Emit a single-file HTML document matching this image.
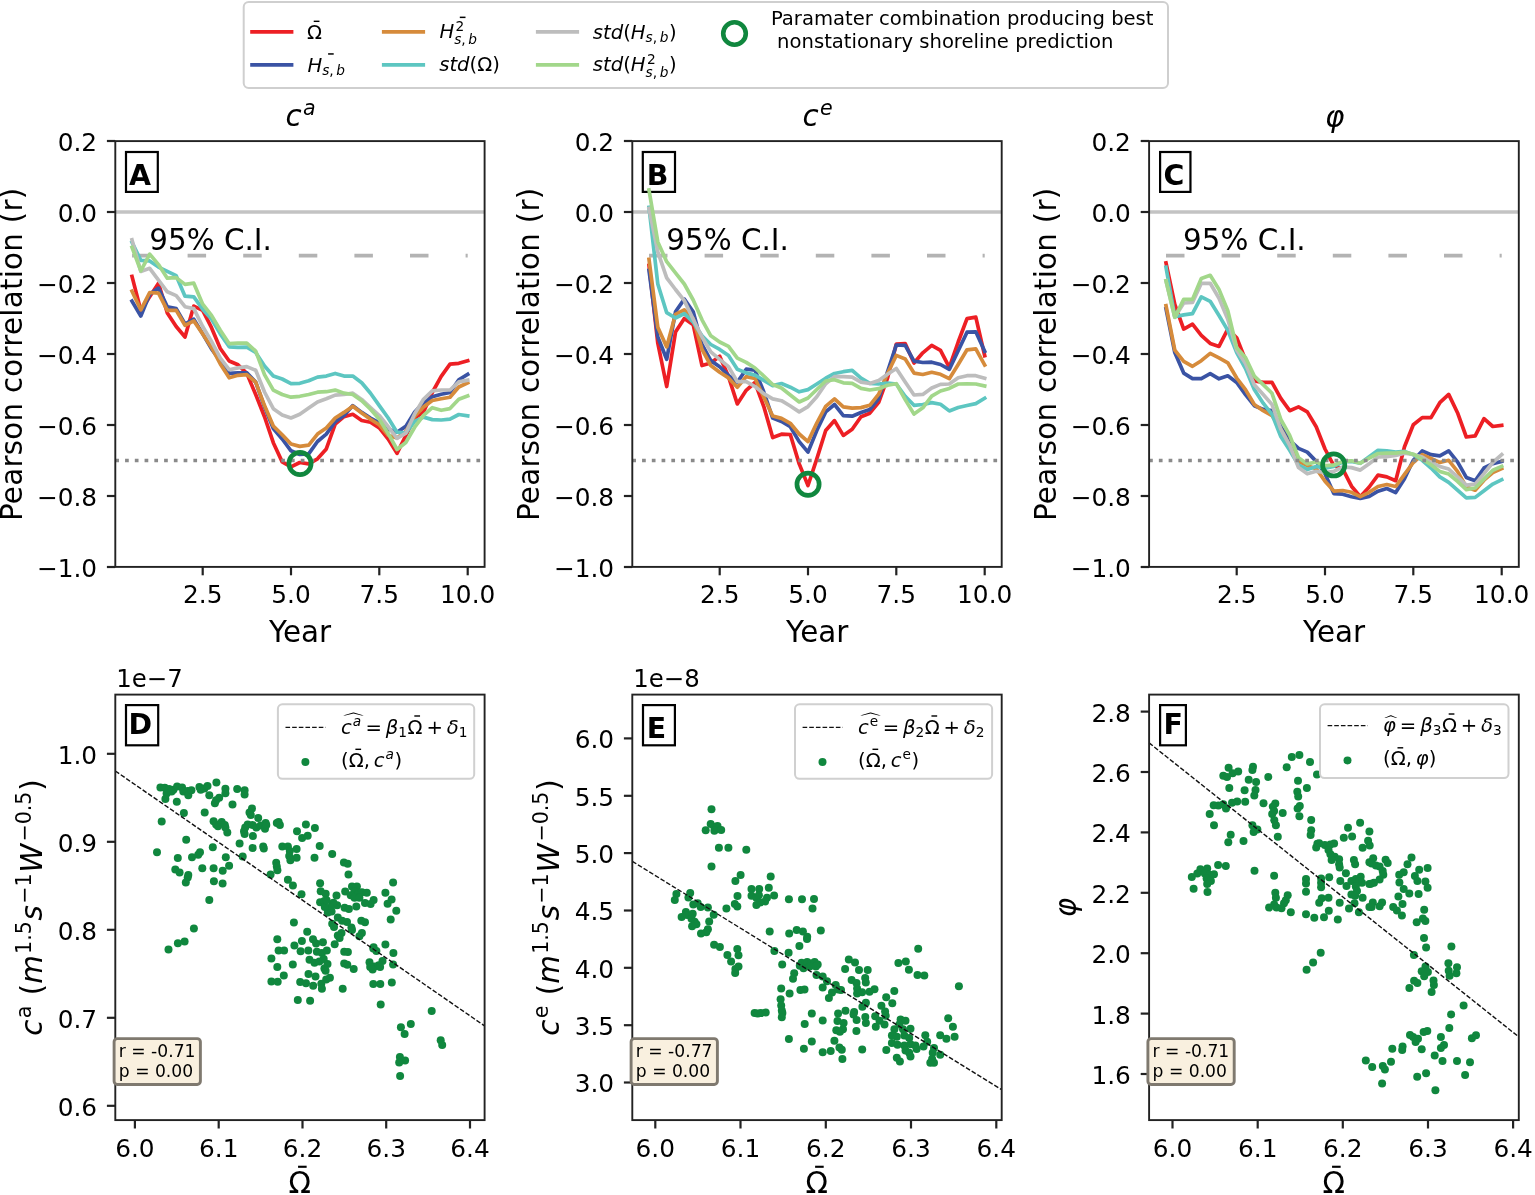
<!DOCTYPE html>
<html><head><meta charset="utf-8"><title>figure</title>
<style>html,body{margin:0;padding:0;background:#fff}svg{display:block}</style></head>
<body>
<svg width="1535" height="1195" viewBox="0 0 1535 1195" font-family="'DejaVu Sans', 'Liberation Sans', sans-serif" fill="#000">
<rect width="1535" height="1195" fill="#fff"/>
<rect x="243.7" y="2" width="924.3" height="86" rx="5" ry="5" fill="#fff" stroke="#cfcfcf" stroke-width="2"/>
<line x1="250.2" y1="31.8" x2="293.4" y2="31.8" stroke="#ed1f24" stroke-width="3.7"/>
<line x1="250.2" y1="64.9" x2="293.4" y2="64.9" stroke="#3a53a4" stroke-width="3.7"/>
<line x1="381.9" y1="31.8" x2="425.09999999999997" y2="31.8" stroke="#d68b3b" stroke-width="3.7"/>
<line x1="381.9" y1="64.9" x2="425.09999999999997" y2="64.9" stroke="#5dc6c1" stroke-width="3.7"/>
<line x1="535.9" y1="31.8" x2="579.1" y2="31.8" stroke="#bdbdbd" stroke-width="3.7"/>
<line x1="535.9" y1="64.9" x2="579.1" y2="64.9" stroke="#a2d78a" stroke-width="3.7"/>
<g transform="translate(307.00,39.30)" >
<text><tspan x="0.00" y="-0.35" font-size="19.60">Ω</tspan></text>
<rect x="6.73" y="-18.69" width="5.72" height="1.41"/>
</g>
<g transform="translate(307.40,72.20)" >
<text><tspan x="0.00" y="-0.42" font-size="19.60" font-style="italic">H</tspan><tspan x="14.76" y="2.86" font-size="13.72" font-style="italic">s</tspan><tspan x="21.91" y="2.86" font-size="13.72">,</tspan><tspan x="28.96" y="2.86" font-size="13.72" font-style="italic">b</tspan></text>
</g>
<rect x="328.1" y="53.2" width="5.6" height="1.5"/>
<g transform="translate(439.40,39.30)" >
<text><tspan x="0.00" y="-0.95" font-size="19.60" font-style="italic">H</tspan><tspan x="16.16" y="-8.61" font-size="13.72">2</tspan><tspan x="14.76" y="4.52" font-size="13.72" font-style="italic">s</tspan><tspan x="21.91" y="4.52" font-size="13.72">,</tspan><tspan x="28.96" y="4.52" font-size="13.72" font-style="italic">b</tspan></text>
</g>
<rect x="459.8" y="16.6" width="5.7" height="1.5"/>
<g transform="translate(439.20,72.20)" >
<text><tspan x="0.00" y="-0.80" font-size="19.60" font-style="italic">s</tspan><tspan x="10.22" y="-0.80" font-size="19.60" font-style="italic">t</tspan><tspan x="17.92" y="-0.80" font-size="19.60" font-style="italic">d</tspan><tspan x="30.38" y="-0.80" font-size="19.60">(</tspan><tspan x="38.03" y="-0.80" font-size="19.60">Ω</tspan><tspan x="53.03" y="-0.80" font-size="19.60">)</tspan></text>
</g>
<g transform="translate(592.80,39.30)" >
<text><tspan x="0.00" y="-0.80" font-size="19.60" font-style="italic">s</tspan><tspan x="10.22" y="-0.80" font-size="19.60" font-style="italic">t</tspan><tspan x="17.92" y="-0.80" font-size="19.60" font-style="italic">d</tspan><tspan x="30.38" y="-0.80" font-size="19.60">(</tspan><tspan x="38.03" y="-0.80" font-size="19.60" font-style="italic">H</tspan><tspan x="52.79" y="2.48" font-size="13.72" font-style="italic">s</tspan><tspan x="59.95" y="2.48" font-size="13.72">,</tspan><tspan x="66.99" y="2.48" font-size="13.72" font-style="italic">b</tspan><tspan x="76.26" y="-0.80" font-size="19.60">)</tspan></text>
</g>
<g transform="translate(592.80,72.20)" >
<text><tspan x="0.00" y="-0.95" font-size="19.60" font-style="italic">s</tspan><tspan x="10.22" y="-0.95" font-size="19.60" font-style="italic">t</tspan><tspan x="17.92" y="-0.95" font-size="19.60" font-style="italic">d</tspan><tspan x="30.38" y="-0.95" font-size="19.60">(</tspan><tspan x="38.03" y="-0.95" font-size="19.60" font-style="italic">H</tspan><tspan x="54.19" y="-8.61" font-size="13.72">2</tspan><tspan x="52.79" y="4.52" font-size="13.72" font-style="italic">s</tspan><tspan x="59.95" y="4.52" font-size="13.72">,</tspan><tspan x="66.99" y="4.52" font-size="13.72" font-style="italic">b</tspan><tspan x="76.26" y="-0.95" font-size="19.60">)</tspan></text>
</g>
<circle cx="734.5" cy="33.5" r="11.3" fill="none" stroke="#10873e" stroke-width="4.6"/>
<text x="770.9" y="25.4" font-size="19.6">Paramater combination producing best</text>
<text x="770.9" y="47.8" font-size="19.6" xml:space="preserve"> nonstationary shoreline prediction</text>
<g>
<rect x="126.0" y="152.0" width="31.8" height="39.9" fill="#fff" stroke="#000" stroke-width="2.2"/>
<text x="129.05" y="184.8" font-size="28.4" font-weight="bold">A</text>
<line x1="115.3" y1="212.0" x2="484.6" y2="212.0" stroke="#c3c3c3" stroke-width="3.7"/>
<line x1="132.0" y1="255.7" x2="467.7" y2="255.7" stroke="#b3b3b3" stroke-width="3.7" stroke-dasharray="18.5 37.1"/>
<text x="149.3" y="249.5" font-size="29.4">95% C.I.</text>
<polyline points="132.0,276.4 140.8,310.4 149.7,296.8 158.5,283.2 167.3,312.9 176.2,326.5 185.0,337.0 193.8,306.1 202.7,310.4 211.5,327.7 220.3,348.5 229.2,361.0 238.0,364.8 246.8,373.4 255.7,394.5 264.5,416.7 273.3,442.7 282.2,461.9 291.0,466.9 299.8,462.5 308.7,463.8 317.5,458.8 326.3,448.9 335.2,424.2 344.0,416.7 352.8,414.3 361.7,420.5 370.5,422.3 379.3,427.9 388.2,439.0 397.0,453.3 405.8,435.7 414.7,417.9 423.5,412.0 432.3,392.5 441.2,376.4 450.0,364.1 458.8,363.3 467.7,360.7" fill="none" stroke="#ed1f24" stroke-width="3.7" stroke-linejoin="round" stroke-linecap="square"/>
<polyline points="132.0,301.1 140.8,316.0 149.7,294.3 158.5,288.1 167.3,306.7 176.2,308.6 185.0,324.0 193.8,319.1 202.7,333.9 211.5,348.8 220.3,361.0 229.2,373.4 238.0,372.8 246.8,372.8 255.7,382.1 264.5,406.8 273.3,428.5 282.2,439.0 291.0,450.8 299.8,454.5 308.7,453.9 317.5,441.5 326.3,434.1 335.2,421.7 344.0,415.5 352.8,405.6 361.7,412.4 370.5,418.0 379.3,422.9 388.2,429.1 397.0,432.2 405.8,426.4 414.7,412.0 423.5,402.7 432.3,396.7 441.2,394.2 450.0,392.5 458.8,379.8 467.7,374.3" fill="none" stroke="#3a53a4" stroke-width="3.7" stroke-linejoin="round" stroke-linecap="square"/>
<polyline points="132.0,291.2 140.8,309.8 149.7,292.5 158.5,293.1 167.3,310.4 176.2,310.4 185.0,325.3 193.8,320.9 202.7,333.9 211.5,347.5 220.3,364.0 229.2,377.8 238.0,375.3 246.8,374.7 255.7,382.1 264.5,405.6 273.3,426.0 282.2,434.7 291.0,444.0 299.8,446.4 308.7,445.2 317.5,434.1 326.3,427.9 335.2,418.0 344.0,412.4 352.8,406.2 361.7,413.0 370.5,419.2 379.3,424.8 388.2,435.3 397.0,438.0 405.8,431.4 414.7,416.2 423.5,406.9 432.3,400.5 441.2,398.8 450.0,397.2 458.8,387.0 467.7,382.8" fill="none" stroke="#d68b3b" stroke-width="3.7" stroke-linejoin="round" stroke-linecap="square"/>
<polyline points="132.0,242.3 140.8,260.3 149.7,260.9 158.5,267.1 167.3,271.4 176.2,275.7 185.0,296.2 193.8,296.8 202.7,309.2 211.5,319.1 220.3,333.9 229.2,346.8 238.0,347.4 246.8,347.2 255.7,352.4 264.5,366.0 273.3,375.9 282.2,379.0 291.0,383.6 299.8,383.3 308.7,380.8 317.5,377.1 326.3,376.1 335.2,373.4 344.0,376.1 352.8,376.1 361.7,382.7 370.5,393.2 379.3,405.6 388.2,418.0 397.0,432.2 405.8,433.1 414.7,421.3 423.5,417.1 432.3,419.6 441.2,420.0 450.0,419.2 458.8,414.5 467.7,415.8" fill="none" stroke="#5dc6c1" stroke-width="3.7" stroke-linejoin="round" stroke-linecap="square"/>
<polyline points="132.0,239.9 140.8,271.4 149.7,268.3 158.5,280.1 167.3,291.8 176.2,295.6 185.0,306.7 193.8,308.6 202.7,326.5 211.5,341.4 220.3,358.0 229.2,369.7 238.0,367.9 246.8,366.6 255.7,370.3 264.5,392.0 273.3,408.7 282.2,414.9 291.0,418.0 299.8,414.3 308.7,408.1 317.5,401.9 326.3,398.8 335.2,395.1 344.0,394.5 352.8,393.2 361.7,399.4 370.5,407.5 379.3,415.5 388.2,426.6 397.0,438.4 405.8,433.1 414.7,413.7 423.5,399.3 432.3,390.8 441.2,390.0 450.0,390.0 458.8,381.9 467.7,380.2" fill="none" stroke="#bdbdbd" stroke-width="3.7" stroke-linejoin="round" stroke-linecap="square"/>
<polyline points="132.0,247.3 140.8,270.8 149.7,254.1 158.5,264.6 167.3,278.2 176.2,277.6 185.0,284.4 193.8,283.2 202.7,304.2 211.5,315.4 220.3,330.2 229.2,343.7 238.0,343.1 246.8,343.1 255.7,351.1 264.5,374.7 273.3,390.1 282.2,394.5 291.0,397.2 299.8,396.3 308.7,394.5 317.5,392.2 326.3,391.7 335.2,390.1 344.0,393.2 352.8,394.5 361.7,400.7 370.5,409.3 379.3,419.2 388.2,433.5 397.0,449.5 405.8,442.5 414.7,427.2 423.5,415.4 432.3,407.7 441.2,410.3 450.0,408.6 458.8,399.3 467.7,395.9" fill="none" stroke="#a2d78a" stroke-width="3.7" stroke-linejoin="round" stroke-linecap="square"/>
<line x1="115.3" y1="460.5" x2="484.6" y2="460.5" stroke="#8a8a8a" stroke-width="3.4" stroke-dasharray="3.7 6.06"/>
<circle cx="300.0" cy="463.5" r="11.1" fill="none" stroke="#10873e" stroke-width="4.7"/>
<rect x="115.3" y="141.1" width="369.3" height="425.79999999999995" fill="none" stroke="#222" stroke-width="1.9"/>
<line x1="202.7" y1="566.9" x2="202.7" y2="575.3" stroke="#222" stroke-width="2.2"/>
<text x="202.7" y="603.3" font-size="24.8" text-anchor="middle">2.5</text>
<line x1="291.0" y1="566.9" x2="291.0" y2="575.3" stroke="#222" stroke-width="2.2"/>
<text x="291.0" y="603.3" font-size="24.8" text-anchor="middle">5.0</text>
<line x1="379.3" y1="566.9" x2="379.3" y2="575.3" stroke="#222" stroke-width="2.2"/>
<text x="379.3" y="603.3" font-size="24.8" text-anchor="middle">7.5</text>
<line x1="467.7" y1="566.9" x2="467.7" y2="575.3" stroke="#222" stroke-width="2.2"/>
<text x="467.7" y="603.3" font-size="24.8" text-anchor="middle">10.0</text>
<line x1="106.89999999999999" y1="141.0" x2="115.3" y2="141.0" stroke="#222" stroke-width="2.2"/>
<text x="97.1" y="150.9" font-size="24.8" text-anchor="end">0.2</text>
<line x1="106.89999999999999" y1="212.0" x2="115.3" y2="212.0" stroke="#222" stroke-width="2.2"/>
<text x="97.1" y="221.9" font-size="24.8" text-anchor="end">0.0</text>
<line x1="106.89999999999999" y1="283.0" x2="115.3" y2="283.0" stroke="#222" stroke-width="2.2"/>
<text x="97.1" y="292.9" font-size="24.8" text-anchor="end">−0.2</text>
<line x1="106.89999999999999" y1="354.0" x2="115.3" y2="354.0" stroke="#222" stroke-width="2.2"/>
<text x="97.1" y="363.9" font-size="24.8" text-anchor="end">−0.4</text>
<line x1="106.89999999999999" y1="425.0" x2="115.3" y2="425.0" stroke="#222" stroke-width="2.2"/>
<text x="97.1" y="434.9" font-size="24.8" text-anchor="end">−0.6</text>
<line x1="106.89999999999999" y1="496.0" x2="115.3" y2="496.0" stroke="#222" stroke-width="2.2"/>
<text x="97.1" y="505.9" font-size="24.8" text-anchor="end">−0.8</text>
<line x1="106.89999999999999" y1="567.0" x2="115.3" y2="567.0" stroke="#222" stroke-width="2.2"/>
<text x="97.1" y="576.9" font-size="24.8" text-anchor="end">−1.0</text>
<text x="300.1" y="641.8" font-size="29.4" text-anchor="middle">Year</text>
<text transform="translate(22.0,354.3) rotate(-90)" font-size="29.4" letter-spacing="0.23" text-anchor="middle">Pearson correlation (r)</text>
<g transform="translate(300.95,127.00)" >
<text><tspan x="-15.50" y="-0.53" font-size="29.40" font-style="italic">c</tspan><tspan x="2.00" y="-11.64" font-size="20.58" font-style="italic">a</tspan></text>
</g>
</g>
<g>
<rect x="642.8" y="152.0" width="32.2" height="39.9" fill="#fff" stroke="#000" stroke-width="2.2"/>
<text x="646.7" y="184.8" font-size="28.4" font-weight="bold">B</text>
<line x1="632.3" y1="212.0" x2="1001.7" y2="212.0" stroke="#c3c3c3" stroke-width="3.7"/>
<line x1="649.0" y1="255.7" x2="984.7" y2="255.7" stroke="#b3b3b3" stroke-width="3.7" stroke-dasharray="18.5 37.1"/>
<text x="666.3" y="249.5" font-size="29.4">95% C.I.</text>
<polyline points="649.0,265.5 657.8,343.2 666.7,386.5 675.5,332.1 684.3,318.5 693.2,324.7 702.0,365.5 710.8,363.0 719.7,356.2 728.5,376.6 737.3,403.9 746.2,390.3 755.0,382.5 763.8,406.6 772.7,437.6 781.5,434.2 790.3,434.5 799.2,463.9 808.0,485.5 816.8,458.9 825.7,430.5 834.5,420.6 843.3,435.4 852.2,429.2 861.0,416.8 869.8,413.2 878.7,402.3 887.5,378.2 896.3,344.0 905.2,343.5 914.0,363.0 922.8,352.8 931.7,345.4 940.5,350.3 949.3,367.4 958.2,342.0 967.0,318.6 975.8,317.1 984.7,355.7" fill="none" stroke="#ed1f24" stroke-width="3.7" stroke-linejoin="round" stroke-linecap="square"/>
<polyline points="649.0,270.4 657.8,337.0 666.7,359.3 675.5,311.8 684.3,299.1 693.2,311.8 702.0,344.5 710.8,360.6 719.7,366.7 728.5,375.4 737.3,382.2 746.2,369.2 755.0,370.1 763.8,392.0 772.7,418.1 781.5,421.5 790.3,426.7 799.2,441.6 808.0,452.1 816.8,430.5 825.7,411.9 834.5,404.5 843.3,415.6 852.2,416.2 861.0,412.5 869.8,409.6 878.7,398.5 887.5,371.8 896.3,345.0 905.2,345.4 914.0,361.1 922.8,362.5 931.7,362.2 940.5,364.5 949.3,369.4 958.2,350.8 967.0,332.2 975.8,331.8 984.7,351.3" fill="none" stroke="#3a53a4" stroke-width="3.7" stroke-linejoin="round" stroke-linecap="square"/>
<polyline points="649.0,259.3 657.8,327.2 666.7,346.9 675.5,314.3 684.3,309.9 693.2,318.5 702.0,349.4 710.8,365.5 719.7,372.3 728.5,377.9 737.3,387.2 746.2,376.6 755.0,378.5 763.8,397.3 772.7,416.0 781.5,418.4 790.3,423.3 799.2,434.0 808.0,441.6 816.8,423.0 825.7,406.3 834.5,398.9 843.3,406.9 852.2,408.2 861.0,407.6 869.8,405.3 878.7,394.2 887.5,373.5 896.3,355.4 905.2,359.0 914.0,373.1 922.8,374.5 931.7,372.3 940.5,374.3 949.3,378.7 958.2,364.5 967.0,349.8 975.8,348.9 984.7,365.0" fill="none" stroke="#d68b3b" stroke-width="3.7" stroke-linejoin="round" stroke-linecap="square"/>
<polyline points="649.0,207.3 657.8,284.0 666.7,312.7 675.5,318.0 684.3,313.6 693.2,322.3 702.0,335.8 710.8,344.5 719.7,349.4 728.5,355.6 737.3,369.2 746.2,372.9 755.0,375.1 763.8,380.3 772.7,385.6 781.5,383.5 790.3,387.2 799.2,391.8 808.0,389.6 816.8,384.0 825.7,378.2 834.5,373.5 843.3,371.7 852.2,370.4 861.0,378.2 869.8,383.3 878.7,384.0 887.5,383.0 896.3,384.0 905.2,396.3 914.0,405.3 922.8,404.5 931.7,402.6 940.5,404.2 949.3,410.9 958.2,407.5 967.0,405.5 975.8,403.6 984.7,398.2" fill="none" stroke="#5dc6c1" stroke-width="3.7" stroke-linejoin="round" stroke-linecap="square"/>
<polyline points="649.0,208.5 657.8,251.8 666.7,277.8 675.5,289.5 684.3,300.6 693.2,319.2 702.0,337.0 710.8,351.9 719.7,359.3 728.5,366.7 737.3,381.6 746.2,381.6 755.0,386.5 763.8,393.6 772.7,398.9 781.5,400.7 790.3,406.0 799.2,411.9 808.0,406.6 816.8,396.7 825.7,383.7 834.5,376.6 843.3,376.6 852.2,377.2 861.0,382.2 869.8,383.5 878.7,380.4 887.5,374.2 896.3,368.5 905.2,382.1 914.0,395.0 922.8,394.4 931.7,388.0 940.5,384.4 949.3,384.0 958.2,377.7 967.0,375.7 975.8,375.7 984.7,378.2" fill="none" stroke="#bdbdbd" stroke-width="3.7" stroke-linejoin="round" stroke-linecap="square"/>
<polyline points="649.0,190.0 657.8,241.9 666.7,261.7 675.5,272.9 684.3,284.0 693.2,300.0 702.0,319.8 710.8,335.8 719.7,342.0 728.5,346.3 737.3,358.1 746.2,362.4 755.0,368.0 763.8,376.0 772.7,384.5 781.5,388.0 790.3,395.0 799.2,402.0 808.0,398.0 816.8,389.5 825.7,381.0 834.5,379.7 843.3,382.8 852.2,383.4 861.0,388.4 869.8,390.0 878.7,388.7 887.5,385.2 896.3,383.7 905.2,399.6 914.0,414.1 922.8,407.8 931.7,396.2 940.5,391.0 949.3,388.4 958.2,384.0 967.0,383.8 975.8,384.0 984.7,386.0" fill="none" stroke="#a2d78a" stroke-width="3.7" stroke-linejoin="round" stroke-linecap="square"/>
<line x1="632.3" y1="460.5" x2="1001.7" y2="460.5" stroke="#8a8a8a" stroke-width="3.4" stroke-dasharray="3.7 6.06"/>
<circle cx="808.05" cy="484.3" r="11.1" fill="none" stroke="#10873e" stroke-width="4.7"/>
<rect x="632.3" y="141.1" width="369.4000000000001" height="425.79999999999995" fill="none" stroke="#222" stroke-width="1.9"/>
<line x1="719.7" y1="566.9" x2="719.7" y2="575.3" stroke="#222" stroke-width="2.2"/>
<text x="719.7" y="603.3" font-size="24.8" text-anchor="middle">2.5</text>
<line x1="808.0" y1="566.9" x2="808.0" y2="575.3" stroke="#222" stroke-width="2.2"/>
<text x="808.0" y="603.3" font-size="24.8" text-anchor="middle">5.0</text>
<line x1="896.3" y1="566.9" x2="896.3" y2="575.3" stroke="#222" stroke-width="2.2"/>
<text x="896.3" y="603.3" font-size="24.8" text-anchor="middle">7.5</text>
<line x1="984.7" y1="566.9" x2="984.7" y2="575.3" stroke="#222" stroke-width="2.2"/>
<text x="984.7" y="603.3" font-size="24.8" text-anchor="middle">10.0</text>
<line x1="623.9" y1="141.0" x2="632.3" y2="141.0" stroke="#222" stroke-width="2.2"/>
<text x="614.1" y="150.9" font-size="24.8" text-anchor="end">0.2</text>
<line x1="623.9" y1="212.0" x2="632.3" y2="212.0" stroke="#222" stroke-width="2.2"/>
<text x="614.1" y="221.9" font-size="24.8" text-anchor="end">0.0</text>
<line x1="623.9" y1="283.0" x2="632.3" y2="283.0" stroke="#222" stroke-width="2.2"/>
<text x="614.1" y="292.9" font-size="24.8" text-anchor="end">−0.2</text>
<line x1="623.9" y1="354.0" x2="632.3" y2="354.0" stroke="#222" stroke-width="2.2"/>
<text x="614.1" y="363.9" font-size="24.8" text-anchor="end">−0.4</text>
<line x1="623.9" y1="425.0" x2="632.3" y2="425.0" stroke="#222" stroke-width="2.2"/>
<text x="614.1" y="434.9" font-size="24.8" text-anchor="end">−0.6</text>
<line x1="623.9" y1="496.0" x2="632.3" y2="496.0" stroke="#222" stroke-width="2.2"/>
<text x="614.1" y="505.9" font-size="24.8" text-anchor="end">−0.8</text>
<line x1="623.9" y1="567.0" x2="632.3" y2="567.0" stroke="#222" stroke-width="2.2"/>
<text x="614.1" y="576.9" font-size="24.8" text-anchor="end">−1.0</text>
<text x="817.2" y="641.8" font-size="29.4" text-anchor="middle">Year</text>
<text transform="translate(539.0,354.3) rotate(-90)" font-size="29.4" letter-spacing="0.23" text-anchor="middle">Pearson correlation (r)</text>
<g transform="translate(818.00,127.00)" >
<text><tspan x="-15.50" y="-0.53" font-size="29.40" font-style="italic">c</tspan><tspan x="2.00" y="-11.64" font-size="20.58" font-style="italic">e</tspan></text>
</g>
</g>
<g>
<rect x="1160.1" y="152.0" width="30.35" height="39.9" fill="#fff" stroke="#000" stroke-width="2.2"/>
<text x="1163.5" y="184.8" font-size="28.4" font-weight="bold">C</text>
<line x1="1149.1" y1="212.0" x2="1518.8" y2="212.0" stroke="#c3c3c3" stroke-width="3.7"/>
<line x1="1166.0" y1="255.7" x2="1501.7" y2="255.7" stroke="#b3b3b3" stroke-width="3.7" stroke-dasharray="18.5 37.1"/>
<text x="1183.1" y="249.5" font-size="29.4">95% C.I.</text>
<polyline points="1166.0,262.9 1174.8,304.4 1183.7,329.1 1192.5,324.2 1201.3,335.3 1210.2,343.4 1219.0,346.4 1227.8,329.1 1236.7,337.8 1245.5,360.0 1254.3,381.0 1263.2,382.3 1272.0,382.4 1280.8,398.3 1289.7,410.7 1298.5,406.9 1307.3,411.9 1316.2,426.7 1325.0,449.0 1333.8,465.7 1342.7,468.8 1351.5,486.2 1360.3,496.7 1369.2,487.0 1378.0,475.1 1386.8,476.9 1395.7,480.7 1404.5,446.8 1413.3,424.8 1422.2,417.6 1431.0,417.6 1439.8,402.7 1448.7,394.4 1457.5,412.7 1466.3,437.0 1475.2,435.9 1484.0,418.7 1492.8,426.5 1501.7,425.4" fill="none" stroke="#ed1f24" stroke-width="3.7" stroke-linejoin="round" stroke-linecap="square"/>
<polyline points="1166.0,308.6 1174.8,352.6 1183.7,373.1 1192.5,378.6 1201.3,378.6 1210.2,373.7 1219.0,378.8 1227.8,375.8 1236.7,382.5 1245.5,394.6 1254.3,405.7 1263.2,409.4 1272.0,410.7 1280.8,426.7 1289.7,440.4 1298.5,448.4 1307.3,452.1 1316.2,461.4 1325.0,473.8 1333.8,493.6 1342.7,494.2 1351.5,496.7 1360.3,498.5 1369.2,496.4 1378.0,491.2 1386.8,488.5 1395.7,492.6 1404.5,478.7 1413.3,460.3 1422.2,450.9 1431.0,454.7 1439.8,455.9 1448.7,450.9 1457.5,461.9 1466.3,477.4 1475.2,480.8 1484.0,468.0 1492.8,463.6 1501.7,461.4" fill="none" stroke="#3a53a4" stroke-width="3.7" stroke-linejoin="round" stroke-linecap="square"/>
<polyline points="1166.0,305.6 1174.8,350.2 1183.7,361.3 1192.5,366.3 1201.3,360.7 1210.2,353.3 1219.0,357.8 1227.8,362.8 1236.7,378.0 1245.5,389.6 1254.3,404.5 1263.2,410.7 1272.0,415.6 1280.8,429.2 1289.7,445.3 1298.5,461.4 1307.3,465.7 1316.2,468.8 1325.0,481.2 1333.8,491.1 1342.7,490.5 1351.5,492.3 1360.3,496.7 1369.2,492.3 1378.0,486.5 1386.8,484.5 1395.7,486.5 1404.5,474.3 1413.3,462.5 1422.2,454.7 1431.0,458.5 1439.8,462.5 1448.7,460.3 1457.5,471.4 1466.3,486.9 1475.2,490.2 1484.0,480.2 1492.8,472.5 1501.7,468.6" fill="none" stroke="#d68b3b" stroke-width="3.7" stroke-linejoin="round" stroke-linecap="square"/>
<polyline points="1166.0,267.2 1174.8,316.7 1183.7,314.9 1192.5,313.6 1201.3,296.9 1210.2,301.3 1219.0,315.5 1227.8,330.4 1236.7,352.5 1245.5,368.6 1254.3,389.5 1263.2,403.2 1272.0,414.4 1280.8,436.6 1289.7,450.3 1298.5,465.1 1307.3,469.4 1316.2,466.4 1325.0,468.2 1333.8,466.4 1342.7,462.0 1351.5,461.4 1360.3,463.3 1369.2,456.7 1378.0,450.3 1386.8,450.9 1395.7,452.0 1404.5,451.4 1413.3,454.7 1422.2,460.3 1431.0,468.0 1439.8,476.9 1448.7,482.4 1457.5,490.2 1466.3,497.9 1475.2,497.4 1484.0,490.7 1492.8,484.1 1501.7,479.7" fill="none" stroke="#5dc6c1" stroke-width="3.7" stroke-linejoin="round" stroke-linecap="square"/>
<polyline points="1166.0,280.8 1174.8,317.2 1183.7,303.0 1192.5,302.5 1201.3,283.3 1210.2,283.3 1219.0,298.2 1227.8,319.2 1236.7,350.0 1245.5,363.6 1254.3,384.7 1263.2,394.6 1272.0,404.5 1280.8,429.2 1289.7,445.3 1298.5,467.6 1307.3,473.8 1316.2,471.3 1325.0,472.5 1333.8,471.3 1342.7,467.0 1351.5,467.6 1360.3,470.1 1369.2,463.8 1378.0,457.0 1386.8,456.7 1395.7,455.5 1404.5,453.2 1413.3,454.5 1422.2,457.0 1431.0,462.5 1439.8,466.4 1448.7,469.1 1457.5,476.9 1466.3,485.2 1475.2,484.1 1484.0,473.6 1492.8,462.5 1501.7,454.7" fill="none" stroke="#bdbdbd" stroke-width="3.7" stroke-linejoin="round" stroke-linecap="square"/>
<polyline points="1166.0,280.8 1174.8,317.4 1183.7,299.4 1192.5,299.4 1201.3,278.4 1210.2,275.3 1219.0,289.5 1227.8,310.6 1236.7,347.7 1245.5,357.5 1254.3,376.1 1263.2,384.7 1272.0,393.3 1280.8,419.3 1289.7,435.4 1298.5,457.7 1307.3,463.9 1316.2,462.0 1325.0,465.7 1333.8,465.1 1342.7,461.4 1351.5,460.8 1360.3,463.2 1369.2,458.2 1378.0,453.5 1386.8,453.2 1395.7,453.2 1404.5,452.0 1413.3,454.2 1422.2,459.2 1431.0,464.7 1439.8,471.4 1448.7,474.1 1457.5,481.3 1466.3,489.6 1475.2,488.0 1484.0,479.1 1492.8,470.2 1501.7,466.4" fill="none" stroke="#a2d78a" stroke-width="3.7" stroke-linejoin="round" stroke-linecap="square"/>
<line x1="1149.1" y1="460.5" x2="1518.8" y2="460.5" stroke="#8a8a8a" stroke-width="3.4" stroke-dasharray="3.7 6.06"/>
<circle cx="1333.7" cy="464.9" r="11.1" fill="none" stroke="#10873e" stroke-width="4.7"/>
<rect x="1149.1" y="141.1" width="369.70000000000005" height="425.79999999999995" fill="none" stroke="#222" stroke-width="1.9"/>
<line x1="1236.7" y1="566.9" x2="1236.7" y2="575.3" stroke="#222" stroke-width="2.2"/>
<text x="1236.7" y="603.3" font-size="24.8" text-anchor="middle">2.5</text>
<line x1="1325.0" y1="566.9" x2="1325.0" y2="575.3" stroke="#222" stroke-width="2.2"/>
<text x="1325.0" y="603.3" font-size="24.8" text-anchor="middle">5.0</text>
<line x1="1413.3" y1="566.9" x2="1413.3" y2="575.3" stroke="#222" stroke-width="2.2"/>
<text x="1413.3" y="603.3" font-size="24.8" text-anchor="middle">7.5</text>
<line x1="1501.7" y1="566.9" x2="1501.7" y2="575.3" stroke="#222" stroke-width="2.2"/>
<text x="1501.7" y="603.3" font-size="24.8" text-anchor="middle">10.0</text>
<line x1="1140.6999999999998" y1="141.0" x2="1149.1" y2="141.0" stroke="#222" stroke-width="2.2"/>
<text x="1130.9" y="150.9" font-size="24.8" text-anchor="end">0.2</text>
<line x1="1140.6999999999998" y1="212.0" x2="1149.1" y2="212.0" stroke="#222" stroke-width="2.2"/>
<text x="1130.9" y="221.9" font-size="24.8" text-anchor="end">0.0</text>
<line x1="1140.6999999999998" y1="283.0" x2="1149.1" y2="283.0" stroke="#222" stroke-width="2.2"/>
<text x="1130.9" y="292.9" font-size="24.8" text-anchor="end">−0.2</text>
<line x1="1140.6999999999998" y1="354.0" x2="1149.1" y2="354.0" stroke="#222" stroke-width="2.2"/>
<text x="1130.9" y="363.9" font-size="24.8" text-anchor="end">−0.4</text>
<line x1="1140.6999999999998" y1="425.0" x2="1149.1" y2="425.0" stroke="#222" stroke-width="2.2"/>
<text x="1130.9" y="434.9" font-size="24.8" text-anchor="end">−0.6</text>
<line x1="1140.6999999999998" y1="496.0" x2="1149.1" y2="496.0" stroke="#222" stroke-width="2.2"/>
<text x="1130.9" y="505.9" font-size="24.8" text-anchor="end">−0.8</text>
<line x1="1140.6999999999998" y1="567.0" x2="1149.1" y2="567.0" stroke="#222" stroke-width="2.2"/>
<text x="1130.9" y="576.9" font-size="24.8" text-anchor="end">−1.0</text>
<text x="1334.1" y="641.8" font-size="29.4" text-anchor="middle">Year</text>
<text transform="translate(1055.8,354.3) rotate(-90)" font-size="29.4" letter-spacing="0.23" text-anchor="middle">Pearson correlation (r)</text>
<g transform="translate(1334.95,127.00)" >
<text><tspan x="-10.00" y="-0.03" font-size="29.40" font-style="italic">φ</tspan></text>
</g>
</g>
<g>
<g fill="#10873e">
<circle cx="160.4" cy="787.5" r="4.0"/>
<circle cx="164.8" cy="787.8" r="4.0"/>
<circle cx="169.1" cy="789.1" r="4.0"/>
<circle cx="173.4" cy="789.7" r="4.0"/>
<circle cx="177.1" cy="786.6" r="4.0"/>
<circle cx="182.1" cy="787.5" r="4.0"/>
<circle cx="166.6" cy="793.4" r="4.0"/>
<circle cx="171.6" cy="791.6" r="4.0"/>
<circle cx="165.4" cy="799.0" r="4.0"/>
<circle cx="183.3" cy="791.6" r="4.0"/>
<circle cx="187.7" cy="790.9" r="4.0"/>
<circle cx="188.3" cy="795.3" r="4.0"/>
<circle cx="191.4" cy="790.3" r="4.0"/>
<circle cx="199.4" cy="787.0" r="4.0"/>
<circle cx="200.7" cy="789.7" r="4.0"/>
<circle cx="204.4" cy="788.5" r="4.0"/>
<circle cx="207.5" cy="786.0" r="4.0"/>
<circle cx="209.3" cy="795.3" r="4.0"/>
<circle cx="216.4" cy="782.5" r="4.0"/>
<circle cx="225.4" cy="788.7" r="4.0"/>
<circle cx="225.4" cy="793.2" r="4.0"/>
<circle cx="219.2" cy="797.8" r="4.0"/>
<circle cx="216.1" cy="800.2" r="4.0"/>
<circle cx="214.9" cy="803.3" r="4.0"/>
<circle cx="237.2" cy="789.1" r="4.0"/>
<circle cx="244.6" cy="790.3" r="4.0"/>
<circle cx="244.6" cy="794.4" r="4.0"/>
<circle cx="176.8" cy="801.8" r="4.0"/>
<circle cx="232.5" cy="804.6" r="4.0"/>
<circle cx="183.9" cy="813.0" r="4.0"/>
<circle cx="204.7" cy="812.6" r="4.0"/>
<circle cx="161.7" cy="821.5" r="4.0"/>
<circle cx="252.0" cy="808.5" r="4.0"/>
<circle cx="249.5" cy="812.6" r="4.0"/>
<circle cx="250.8" cy="815.1" r="4.0"/>
<circle cx="258.2" cy="817.9" r="4.0"/>
<circle cx="265.6" cy="822.9" r="4.0"/>
<circle cx="247.7" cy="824.4" r="4.0"/>
<circle cx="245.2" cy="827.5" r="4.0"/>
<circle cx="244.0" cy="831.2" r="4.0"/>
<circle cx="244.6" cy="834.0" r="4.0"/>
<circle cx="252.6" cy="825.0" r="4.0"/>
<circle cx="256.4" cy="827.5" r="4.0"/>
<circle cx="260.7" cy="825.6" r="4.0"/>
<circle cx="265.0" cy="828.7" r="4.0"/>
<circle cx="266.3" cy="825.0" r="4.0"/>
<circle cx="252.9" cy="836.1" r="4.0"/>
<circle cx="213.6" cy="821.3" r="4.0"/>
<circle cx="216.1" cy="824.4" r="4.0"/>
<circle cx="218.0" cy="826.2" r="4.0"/>
<circle cx="221.7" cy="821.9" r="4.0"/>
<circle cx="224.8" cy="825.0" r="4.0"/>
<circle cx="227.3" cy="832.4" r="4.0"/>
<circle cx="225.4" cy="827.5" r="4.0"/>
<circle cx="276.8" cy="822.9" r="4.0"/>
<circle cx="278.6" cy="821.9" r="4.0"/>
<circle cx="279.9" cy="825.0" r="4.0"/>
<circle cx="305.9" cy="824.6" r="4.0"/>
<circle cx="297.0" cy="831.2" r="4.0"/>
<circle cx="314.9" cy="828.1" r="4.0"/>
<circle cx="302.1" cy="838.0" r="4.0"/>
<circle cx="307.7" cy="835.8" r="4.0"/>
<circle cx="319.7" cy="846.0" r="4.0"/>
<circle cx="186.2" cy="839.8" r="4.0"/>
<circle cx="239.6" cy="843.5" r="4.0"/>
<circle cx="212.8" cy="847.3" r="4.0"/>
<circle cx="252.6" cy="847.9" r="4.0"/>
<circle cx="263.2" cy="846.6" r="4.0"/>
<circle cx="263.8" cy="848.5" r="4.0"/>
<circle cx="157.0" cy="852.2" r="4.0"/>
<circle cx="177.8" cy="858.0" r="4.0"/>
<circle cx="192.0" cy="857.2" r="4.0"/>
<circle cx="198.2" cy="854.7" r="4.0"/>
<circle cx="200.0" cy="852.2" r="4.0"/>
<circle cx="225.8" cy="857.2" r="4.0"/>
<circle cx="242.7" cy="856.5" r="4.0"/>
<circle cx="229.1" cy="865.8" r="4.0"/>
<circle cx="222.7" cy="870.8" r="4.0"/>
<circle cx="202.3" cy="868.3" r="4.0"/>
<circle cx="213.6" cy="868.3" r="4.0"/>
<circle cx="175.3" cy="869.5" r="4.0"/>
<circle cx="179.6" cy="872.6" r="4.0"/>
<circle cx="188.3" cy="875.1" r="4.0"/>
<circle cx="187.7" cy="877.6" r="4.0"/>
<circle cx="185.8" cy="882.5" r="4.0"/>
<circle cx="213.9" cy="881.3" r="4.0"/>
<circle cx="222.6" cy="883.4" r="4.0"/>
<circle cx="209.3" cy="899.9" r="4.0"/>
<circle cx="282.3" cy="846.6" r="4.0"/>
<circle cx="287.9" cy="846.6" r="4.0"/>
<circle cx="289.8" cy="851.0" r="4.0"/>
<circle cx="296.6" cy="848.9" r="4.0"/>
<circle cx="289.2" cy="855.9" r="4.0"/>
<circle cx="296.6" cy="857.8" r="4.0"/>
<circle cx="290.4" cy="860.3" r="4.0"/>
<circle cx="314.5" cy="857.8" r="4.0"/>
<circle cx="276.2" cy="862.7" r="4.0"/>
<circle cx="276.8" cy="866.4" r="4.0"/>
<circle cx="277.4" cy="870.2" r="4.0"/>
<circle cx="270.6" cy="874.5" r="4.0"/>
<circle cx="287.9" cy="879.8" r="4.0"/>
<circle cx="292.9" cy="885.6" r="4.0"/>
<circle cx="301.5" cy="894.3" r="4.0"/>
<circle cx="320.1" cy="883.2" r="4.0"/>
<circle cx="320.7" cy="891.2" r="4.0"/>
<circle cx="325.7" cy="893.7" r="4.0"/>
<circle cx="320.1" cy="902.3" r="4.0"/>
<circle cx="324.4" cy="901.1" r="4.0"/>
<circle cx="332.2" cy="854.1" r="4.0"/>
<circle cx="343.9" cy="862.5" r="4.0"/>
<circle cx="347.7" cy="863.7" r="4.0"/>
<circle cx="348.5" cy="874.6" r="4.0"/>
<circle cx="336.5" cy="895.6" r="4.0"/>
<circle cx="345.2" cy="891.6" r="4.0"/>
<circle cx="352.0" cy="886.6" r="4.0"/>
<circle cx="356.9" cy="886.6" r="4.0"/>
<circle cx="354.5" cy="891.6" r="4.0"/>
<circle cx="358.2" cy="894.1" r="4.0"/>
<circle cx="350.7" cy="895.3" r="4.0"/>
<circle cx="361.9" cy="892.2" r="4.0"/>
<circle cx="366.8" cy="892.8" r="4.0"/>
<circle cx="354.5" cy="897.8" r="4.0"/>
<circle cx="359.4" cy="897.8" r="4.0"/>
<circle cx="373.6" cy="900.0" r="4.0"/>
<circle cx="370.6" cy="904.0" r="4.0"/>
<circle cx="365.0" cy="903.0" r="4.0"/>
<circle cx="356.3" cy="906.4" r="4.0"/>
<circle cx="332.2" cy="905.2" r="4.0"/>
<circle cx="337.1" cy="905.2" r="4.0"/>
<circle cx="333.4" cy="902.7" r="4.0"/>
<circle cx="344.6" cy="907.7" r="4.0"/>
<circle cx="348.9" cy="908.9" r="4.0"/>
<circle cx="393.1" cy="882.6" r="4.0"/>
<circle cx="385.4" cy="892.8" r="4.0"/>
<circle cx="391.6" cy="899.6" r="4.0"/>
<circle cx="387.6" cy="903.7" r="4.0"/>
<circle cx="396.3" cy="910.8" r="4.0"/>
<circle cx="390.7" cy="919.4" r="4.0"/>
<circle cx="327.8" cy="912.6" r="4.0"/>
<circle cx="331.6" cy="911.4" r="4.0"/>
<circle cx="330.3" cy="907.7" r="4.0"/>
<circle cx="337.8" cy="917.6" r="4.0"/>
<circle cx="342.1" cy="920.7" r="4.0"/>
<circle cx="347.0" cy="921.9" r="4.0"/>
<circle cx="332.2" cy="923.8" r="4.0"/>
<circle cx="334.0" cy="926.9" r="4.0"/>
<circle cx="351.4" cy="927.5" r="4.0"/>
<circle cx="352.0" cy="930.0" r="4.0"/>
<circle cx="361.3" cy="920.7" r="4.0"/>
<circle cx="365.0" cy="922.3" r="4.0"/>
<circle cx="361.9" cy="933.1" r="4.0"/>
<circle cx="359.4" cy="936.2" r="4.0"/>
<circle cx="341.5" cy="933.1" r="4.0"/>
<circle cx="337.8" cy="935.5" r="4.0"/>
<circle cx="339.6" cy="938.0" r="4.0"/>
<circle cx="307.2" cy="931.8" r="4.0"/>
<circle cx="313.0" cy="939.2" r="4.0"/>
<circle cx="301.9" cy="941.1" r="4.0"/>
<circle cx="316.1" cy="943.6" r="4.0"/>
<circle cx="322.9" cy="942.3" r="4.0"/>
<circle cx="334.7" cy="944.2" r="4.0"/>
<circle cx="385.4" cy="944.6" r="4.0"/>
<circle cx="373.6" cy="947.3" r="4.0"/>
<circle cx="324.8" cy="907.1" r="4.0"/>
<circle cx="326.6" cy="900.3" r="4.0"/>
<circle cx="277.3" cy="939.3" r="4.0"/>
<circle cx="294.4" cy="945.5" r="4.0"/>
<circle cx="278.6" cy="950.4" r="4.0"/>
<circle cx="284.1" cy="950.4" r="4.0"/>
<circle cx="271.4" cy="958.5" r="4.0"/>
<circle cx="277.3" cy="967.1" r="4.0"/>
<circle cx="283.8" cy="975.6" r="4.0"/>
<circle cx="271.4" cy="981.4" r="4.0"/>
<circle cx="277.7" cy="981.7" r="4.0"/>
<circle cx="292.8" cy="964.4" r="4.0"/>
<circle cx="300.6" cy="951.3" r="4.0"/>
<circle cx="308.3" cy="950.4" r="4.0"/>
<circle cx="309.5" cy="959.7" r="4.0"/>
<circle cx="314.5" cy="962.8" r="4.0"/>
<circle cx="319.4" cy="961.6" r="4.0"/>
<circle cx="316.9" cy="951.7" r="4.0"/>
<circle cx="321.9" cy="952.9" r="4.0"/>
<circle cx="326.8" cy="950.4" r="4.0"/>
<circle cx="323.7" cy="959.1" r="4.0"/>
<circle cx="327.5" cy="964.0" r="4.0"/>
<circle cx="324.4" cy="968.4" r="4.0"/>
<circle cx="325.6" cy="970.8" r="4.0"/>
<circle cx="308.5" cy="973.9" r="4.0"/>
<circle cx="315.5" cy="976.4" r="4.0"/>
<circle cx="329.9" cy="977.7" r="4.0"/>
<circle cx="326.2" cy="979.5" r="4.0"/>
<circle cx="300.2" cy="982.0" r="4.0"/>
<circle cx="306.0" cy="983.2" r="4.0"/>
<circle cx="313.2" cy="985.7" r="4.0"/>
<circle cx="321.3" cy="983.8" r="4.0"/>
<circle cx="321.9" cy="988.8" r="4.0"/>
<circle cx="342.7" cy="988.8" r="4.0"/>
<circle cx="297.8" cy="999.9" r="4.0"/>
<circle cx="310.1" cy="1000.8" r="4.0"/>
<circle cx="344.2" cy="951.7" r="4.0"/>
<circle cx="347.9" cy="952.0" r="4.0"/>
<circle cx="344.2" cy="963.4" r="4.0"/>
<circle cx="347.3" cy="964.7" r="4.0"/>
<circle cx="353.7" cy="969.0" r="4.0"/>
<circle cx="373.3" cy="948.6" r="4.0"/>
<circle cx="376.4" cy="951.0" r="4.0"/>
<circle cx="393.4" cy="952.9" r="4.0"/>
<circle cx="393.1" cy="964.4" r="4.0"/>
<circle cx="369.5" cy="962.2" r="4.0"/>
<circle cx="382.5" cy="960.9" r="4.0"/>
<circle cx="378.8" cy="965.3" r="4.0"/>
<circle cx="374.5" cy="966.5" r="4.0"/>
<circle cx="370.2" cy="967.1" r="4.0"/>
<circle cx="372.6" cy="969.6" r="4.0"/>
<circle cx="380.1" cy="967.1" r="4.0"/>
<circle cx="373.3" cy="984.1" r="4.0"/>
<circle cx="380.3" cy="984.1" r="4.0"/>
<circle cx="391.8" cy="982.4" r="4.0"/>
<circle cx="380.7" cy="1004.6" r="4.0"/>
<circle cx="431.7" cy="1011.1" r="4.0"/>
<circle cx="410.8" cy="1024.1" r="4.0"/>
<circle cx="400.9" cy="1027.2" r="4.0"/>
<circle cx="404.6" cy="1034.0" r="4.0"/>
<circle cx="440.7" cy="1040.2" r="4.0"/>
<circle cx="442.2" cy="1045.1" r="4.0"/>
<circle cx="399.9" cy="1056.9" r="4.0"/>
<circle cx="405.1" cy="1060.6" r="4.0"/>
<circle cx="399.2" cy="1062.4" r="4.0"/>
<circle cx="400.1" cy="1076.1" r="4.0"/>
<circle cx="193.9" cy="928.4" r="4.0"/>
<circle cx="184.6" cy="941.4" r="4.0"/>
<circle cx="177.9" cy="943.2" r="4.0"/>
<circle cx="168.5" cy="949.4" r="4.0"/>
<circle cx="293.9" cy="922.6" r="4.0"/>
</g>
<line x1="115.3" y1="771.0" x2="484.6" y2="1025.9" stroke="#111" stroke-width="1.4" stroke-dasharray="4.7 1.95"/>
<rect x="115.3" y="694.6" width="369.3" height="425.4999999999999" fill="none" stroke="#222" stroke-width="1.9"/>
<line x1="134.9" y1="1120.1" x2="134.9" y2="1128.5" stroke="#222" stroke-width="2.2"/>
<text x="134.9" y="1156.5" font-size="24.8" text-anchor="middle">6.0</text>
<line x1="218.7" y1="1120.1" x2="218.7" y2="1128.5" stroke="#222" stroke-width="2.2"/>
<text x="218.7" y="1156.5" font-size="24.8" text-anchor="middle">6.1</text>
<line x1="302.5" y1="1120.1" x2="302.5" y2="1128.5" stroke="#222" stroke-width="2.2"/>
<text x="302.5" y="1156.5" font-size="24.8" text-anchor="middle">6.2</text>
<line x1="386.2" y1="1120.1" x2="386.2" y2="1128.5" stroke="#222" stroke-width="2.2"/>
<text x="386.2" y="1156.5" font-size="24.8" text-anchor="middle">6.3</text>
<line x1="470.0" y1="1120.1" x2="470.0" y2="1128.5" stroke="#222" stroke-width="2.2"/>
<text x="470.0" y="1156.5" font-size="24.8" text-anchor="middle">6.4</text>
<line x1="106.89999999999999" y1="753.8" x2="115.3" y2="753.8" stroke="#222" stroke-width="2.2"/>
<text x="97.1" y="763.7" font-size="24.8" text-anchor="end">1.0</text>
<line x1="106.89999999999999" y1="841.8" x2="115.3" y2="841.8" stroke="#222" stroke-width="2.2"/>
<text x="97.1" y="851.7" font-size="24.8" text-anchor="end">0.9</text>
<line x1="106.89999999999999" y1="929.8" x2="115.3" y2="929.8" stroke="#222" stroke-width="2.2"/>
<text x="97.1" y="939.7" font-size="24.8" text-anchor="end">0.8</text>
<line x1="106.89999999999999" y1="1017.8" x2="115.3" y2="1017.8" stroke="#222" stroke-width="2.2"/>
<text x="97.1" y="1027.7" font-size="24.8" text-anchor="end">0.7</text>
<line x1="106.89999999999999" y1="1105.8" x2="115.3" y2="1105.8" stroke="#222" stroke-width="2.2"/>
<text x="97.1" y="1115.7" font-size="24.8" text-anchor="end">0.6</text>
<rect x="126.0" y="705.1" width="32.2" height="40.2" fill="#fff" stroke="#000" stroke-width="2.2"/>
<text x="128.6" y="733.75" font-size="28.4" font-weight="bold">D</text>
<text x="116.2" y="686.9" font-size="24.4">1e−7</text>
<rect x="277.9" y="704.3" width="196.3" height="74.5" rx="4.5" ry="4.5" fill="#fff" fill-opacity="0.8" stroke="#d0d0d0" stroke-width="2"/>
<line x1="285.5" y1="727.3" x2="325.7" y2="727.3" stroke="#111" stroke-width="1.3" stroke-dasharray="4.6 2.05"/>
<circle cx="305.4" cy="761.9" r="4.0" fill="#10873e"/>
<g transform="translate(341.00,733.70)" >
<text><tspan x="0.00" y="-0.07" font-size="19.60" font-style="italic">c</tspan><tspan x="11.72" y="-7.72" font-size="13.72" font-style="italic">a</tspan><tspan x="24.51" y="-0.07" font-size="19.60">=</tspan><tspan x="44.78" y="-0.07" font-size="19.60" font-style="italic">β</tspan><tspan x="57.30" y="3.21" font-size="13.72">1</tspan><tspan x="66.59" y="-0.07" font-size="19.60">Ω</tspan><tspan x="85.41" y="-0.07" font-size="19.60">+</tspan><tspan x="105.67" y="-0.07" font-size="19.60" font-style="italic">δ</tspan><tspan x="117.68" y="3.21" font-size="13.72">1</tspan></text>
<polygon points="22.80,-18.10 20.63,-18.10 12.47,-20.15 4.30,-18.10 2.14,-18.10 12.13,-21.11 12.81,-21.11"/>
<rect x="73.32" y="-18.41" width="5.72" height="1.41"/>
</g>
<g transform="translate(341.00,767.30)" >
<text><tspan x="0.00" y="-0.35" font-size="19.60">(</tspan><tspan x="7.66" y="-0.35" font-size="19.60">Ω</tspan><tspan x="22.65" y="-0.35" font-size="19.60">,</tspan><tspan x="32.71" y="-0.35" font-size="19.60" font-style="italic">c</tspan><tspan x="44.44" y="-8.00" font-size="13.72" font-style="italic">a</tspan><tspan x="53.40" y="-0.35" font-size="19.60">)</tspan></text>
<rect x="14.39" y="-18.69" width="5.72" height="1.41"/>
</g>
<rect x="114.1" y="1038.6" width="86.3" height="45.9" rx="3.2" ry="3.2" fill="#f9f0df" stroke="#7f796f" stroke-width="2.9"/>
<text x="118.8" y="1056.9" font-size="17.15">r = -0.71</text>
<text x="118.8" y="1076.5" font-size="17.15">p = 0.00</text>
<g transform="translate(299.95,1194.00)" >
<text><tspan x="-11.50" y="-0.84" font-size="29.40">Ω</tspan></text>
<rect x="-1.89" y="-28.29" width="8.58" height="2.12"/>
</g>
<g transform="translate(42.60,907.25) rotate(-90)" >
<text><tspan x="-128.50" y="-0.83" font-size="29.40" font-style="italic">c</tspan><tspan x="-111.00" y="-11.93" font-size="20.58">a</tspan><tspan x="-88.07" y="-0.83" font-size="29.40">(</tspan><tspan x="-76.61" y="-0.83" font-size="29.40" font-style="italic">m</tspan><tspan x="-46.65" y="-11.93" font-size="20.58">1</tspan><tspan x="-33.56" y="-11.93" font-size="20.58">.</tspan><tspan x="-27.03" y="-11.93" font-size="20.58">5</tspan><tspan x="-13.15" y="-0.83" font-size="29.40" font-style="italic">s</tspan><tspan x="3.50" y="-11.93" font-size="20.58">−</tspan><tspan x="20.73" y="-11.93" font-size="20.58">1</tspan><tspan x="34.60" y="-0.83" font-size="29.40" font-style="italic">W</tspan><tspan x="65.68" y="-11.93" font-size="20.58">−</tspan><tspan x="82.91" y="-11.93" font-size="20.58">0</tspan><tspan x="95.99" y="-11.93" font-size="20.58">.</tspan><tspan x="102.53" y="-11.93" font-size="20.58">5</tspan><tspan x="116.41" y="-0.83" font-size="29.40">)</tspan></text>
</g>
</g>
<g>
<g fill="#10873e">
<circle cx="711.5" cy="809.2" r="4.0"/>
<circle cx="705.7" cy="830.2" r="4.0"/>
<circle cx="710.7" cy="824.0" r="4.0"/>
<circle cx="714.4" cy="827.1" r="4.0"/>
<circle cx="717.5" cy="825.9" r="4.0"/>
<circle cx="714.4" cy="830.8" r="4.0"/>
<circle cx="721.2" cy="829.9" r="4.0"/>
<circle cx="718.9" cy="847.8" r="4.0"/>
<circle cx="728.4" cy="847.8" r="4.0"/>
<circle cx="746.3" cy="849.7" r="4.0"/>
<circle cx="711.5" cy="866.5" r="4.0"/>
<circle cx="740.6" cy="875.0" r="4.0"/>
<circle cx="735.4" cy="881.0" r="4.0"/>
<circle cx="770.7" cy="876.6" r="4.0"/>
<circle cx="768.8" cy="887.8" r="4.0"/>
<circle cx="751.5" cy="889.0" r="4.0"/>
<circle cx="759.2" cy="889.0" r="4.0"/>
<circle cx="774.1" cy="895.5" r="4.0"/>
<circle cx="751.5" cy="895.8" r="4.0"/>
<circle cx="756.4" cy="897.7" r="4.0"/>
<circle cx="758.9" cy="895.2" r="4.0"/>
<circle cx="767.0" cy="897.7" r="4.0"/>
<circle cx="765.1" cy="901.4" r="4.0"/>
<circle cx="760.2" cy="902.6" r="4.0"/>
<circle cx="756.4" cy="905.1" r="4.0"/>
<circle cx="737.5" cy="896.1" r="4.0"/>
<circle cx="734.8" cy="903.9" r="4.0"/>
<circle cx="737.3" cy="906.4" r="4.0"/>
<circle cx="726.4" cy="908.6" r="4.0"/>
<circle cx="788.9" cy="899.2" r="4.0"/>
<circle cx="802.0" cy="899.2" r="4.0"/>
<circle cx="814.0" cy="898.9" r="4.0"/>
<circle cx="812.5" cy="908.6" r="4.0"/>
<circle cx="676.4" cy="894.0" r="4.0"/>
<circle cx="674.8" cy="899.9" r="4.0"/>
<circle cx="690.2" cy="893.0" r="4.0"/>
<circle cx="688.4" cy="897.4" r="4.0"/>
<circle cx="693.3" cy="904.5" r="4.0"/>
<circle cx="697.7" cy="903.3" r="4.0"/>
<circle cx="700.7" cy="907.0" r="4.0"/>
<circle cx="707.9" cy="907.6" r="4.0"/>
<circle cx="713.7" cy="914.8" r="4.0"/>
<circle cx="685.9" cy="911.9" r="4.0"/>
<circle cx="681.6" cy="916.9" r="4.0"/>
<circle cx="687.1" cy="915.0" r="4.0"/>
<circle cx="692.7" cy="913.8" r="4.0"/>
<circle cx="691.5" cy="918.7" r="4.0"/>
<circle cx="694.6" cy="921.8" r="4.0"/>
<circle cx="696.4" cy="924.3" r="4.0"/>
<circle cx="692.1" cy="926.2" r="4.0"/>
<circle cx="709.2" cy="921.5" r="4.0"/>
<circle cx="707.9" cy="929.2" r="4.0"/>
<circle cx="706.3" cy="932.3" r="4.0"/>
<circle cx="701.0" cy="933.6" r="4.0"/>
<circle cx="769.7" cy="931.5" r="4.0"/>
<circle cx="820.8" cy="930.5" r="4.0"/>
<circle cx="789.2" cy="933.6" r="4.0"/>
<circle cx="796.7" cy="929.9" r="4.0"/>
<circle cx="802.9" cy="931.5" r="4.0"/>
<circle cx="807.2" cy="936.7" r="4.0"/>
<circle cx="714.1" cy="944.8" r="4.0"/>
<circle cx="719.9" cy="947.0" r="4.0"/>
<circle cx="727.4" cy="955.1" r="4.0"/>
<circle cx="731.1" cy="961.5" r="4.0"/>
<circle cx="737.3" cy="949.1" r="4.0"/>
<circle cx="738.5" cy="955.3" r="4.0"/>
<circle cx="738.5" cy="966.5" r="4.0"/>
<circle cx="735.4" cy="968.9" r="4.0"/>
<circle cx="735.2" cy="973.0" r="4.0"/>
<circle cx="807.0" cy="938.9" r="4.0"/>
<circle cx="799.4" cy="946.0" r="4.0"/>
<circle cx="774.4" cy="951.0" r="4.0"/>
<circle cx="788.6" cy="952.8" r="4.0"/>
<circle cx="782.2" cy="964.4" r="4.0"/>
<circle cx="801.6" cy="962.8" r="4.0"/>
<circle cx="807.2" cy="962.1" r="4.0"/>
<circle cx="810.9" cy="963.4" r="4.0"/>
<circle cx="814.6" cy="962.1" r="4.0"/>
<circle cx="817.7" cy="964.6" r="4.0"/>
<circle cx="803.5" cy="968.3" r="4.0"/>
<circle cx="799.8" cy="965.8" r="4.0"/>
<circle cx="809.7" cy="966.5" r="4.0"/>
<circle cx="815.9" cy="966.5" r="4.0"/>
<circle cx="794.2" cy="973.3" r="4.0"/>
<circle cx="793.0" cy="978.8" r="4.0"/>
<circle cx="816.5" cy="975.1" r="4.0"/>
<circle cx="822.7" cy="976.4" r="4.0"/>
<circle cx="827.0" cy="981.3" r="4.0"/>
<circle cx="822.7" cy="987.5" r="4.0"/>
<circle cx="835.7" cy="985.0" r="4.0"/>
<circle cx="832.0" cy="992.5" r="4.0"/>
<circle cx="828.9" cy="998.0" r="4.0"/>
<circle cx="838.1" cy="989.4" r="4.0"/>
<circle cx="781.2" cy="988.5" r="4.0"/>
<circle cx="789.6" cy="993.4" r="4.0"/>
<circle cx="800.4" cy="990.0" r="4.0"/>
<circle cx="804.5" cy="989.4" r="4.0"/>
<circle cx="780.6" cy="999.3" r="4.0"/>
<circle cx="781.2" cy="1005.5" r="4.0"/>
<circle cx="781.8" cy="1010.4" r="4.0"/>
<circle cx="782.4" cy="1012.9" r="4.0"/>
<circle cx="781.8" cy="1017.2" r="4.0"/>
<circle cx="754.6" cy="1012.9" r="4.0"/>
<circle cx="757.7" cy="1013.5" r="4.0"/>
<circle cx="760.8" cy="1013.1" r="4.0"/>
<circle cx="765.7" cy="1012.6" r="4.0"/>
<circle cx="811.8" cy="1013.5" r="4.0"/>
<circle cx="822.7" cy="1020.6" r="4.0"/>
<circle cx="804.7" cy="1024.0" r="4.0"/>
<circle cx="788.9" cy="1038.9" r="4.0"/>
<circle cx="811.8" cy="1041.4" r="4.0"/>
<circle cx="803.9" cy="1048.8" r="4.0"/>
<circle cx="822.7" cy="1052.2" r="4.0"/>
<circle cx="830.7" cy="1051.0" r="4.0"/>
<circle cx="838.1" cy="1013.5" r="4.0"/>
<circle cx="837.5" cy="1020.9" r="4.0"/>
<circle cx="836.3" cy="1030.2" r="4.0"/>
<circle cx="834.4" cy="1040.7" r="4.0"/>
<circle cx="839.4" cy="1047.5" r="4.0"/>
<circle cx="918.2" cy="948.8" r="4.0"/>
<circle cx="848.8" cy="959.5" r="4.0"/>
<circle cx="855.0" cy="962.4" r="4.0"/>
<circle cx="845.1" cy="969.1" r="4.0"/>
<circle cx="859.0" cy="970.1" r="4.0"/>
<circle cx="867.7" cy="970.1" r="4.0"/>
<circle cx="865.2" cy="978.1" r="4.0"/>
<circle cx="865.8" cy="982.4" r="4.0"/>
<circle cx="851.6" cy="980.0" r="4.0"/>
<circle cx="856.5" cy="983.1" r="4.0"/>
<circle cx="857.1" cy="988.6" r="4.0"/>
<circle cx="898.4" cy="963.0" r="4.0"/>
<circle cx="905.8" cy="961.4" r="4.0"/>
<circle cx="908.9" cy="969.8" r="4.0"/>
<circle cx="917.5" cy="975.0" r="4.0"/>
<circle cx="924.3" cy="975.6" r="4.0"/>
<circle cx="958.9" cy="986.2" r="4.0"/>
<circle cx="894.3" cy="990.9" r="4.0"/>
<circle cx="874.5" cy="989.2" r="4.0"/>
<circle cx="869.5" cy="991.7" r="4.0"/>
<circle cx="862.1" cy="992.3" r="4.0"/>
<circle cx="857.1" cy="993.6" r="4.0"/>
<circle cx="841.0" cy="989.9" r="4.0"/>
<circle cx="886.2" cy="997.3" r="4.0"/>
<circle cx="892.3" cy="1003.3" r="4.0"/>
<circle cx="881.4" cy="1005.8" r="4.0"/>
<circle cx="885.1" cy="1011.4" r="4.0"/>
<circle cx="865.9" cy="1002.7" r="4.0"/>
<circle cx="862.4" cy="1006.8" r="4.0"/>
<circle cx="845.5" cy="1010.7" r="4.0"/>
<circle cx="854.1" cy="1012.0" r="4.0"/>
<circle cx="853.5" cy="1014.5" r="4.0"/>
<circle cx="856.6" cy="1020.0" r="4.0"/>
<circle cx="865.3" cy="1016.9" r="4.0"/>
<circle cx="865.9" cy="1023.1" r="4.0"/>
<circle cx="875.2" cy="1016.3" r="4.0"/>
<circle cx="879.5" cy="1020.7" r="4.0"/>
<circle cx="884.5" cy="1024.4" r="4.0"/>
<circle cx="875.8" cy="1026.8" r="4.0"/>
<circle cx="885.7" cy="1015.7" r="4.0"/>
<circle cx="843.6" cy="1023.1" r="4.0"/>
<circle cx="843.0" cy="1029.3" r="4.0"/>
<circle cx="856.4" cy="1030.9" r="4.0"/>
<circle cx="839.9" cy="1031.8" r="4.0"/>
<circle cx="841.8" cy="1049.7" r="4.0"/>
<circle cx="842.4" cy="1059.0" r="4.0"/>
<circle cx="862.2" cy="1049.4" r="4.0"/>
<circle cx="886.3" cy="1050.1" r="4.0"/>
<circle cx="900.6" cy="1019.4" r="4.0"/>
<circle cx="905.5" cy="1020.7" r="4.0"/>
<circle cx="899.3" cy="1024.4" r="4.0"/>
<circle cx="894.4" cy="1029.3" r="4.0"/>
<circle cx="903.0" cy="1029.3" r="4.0"/>
<circle cx="910.5" cy="1028.7" r="4.0"/>
<circle cx="891.9" cy="1035.5" r="4.0"/>
<circle cx="896.8" cy="1036.7" r="4.0"/>
<circle cx="904.3" cy="1035.5" r="4.0"/>
<circle cx="909.2" cy="1038.0" r="4.0"/>
<circle cx="891.9" cy="1042.9" r="4.0"/>
<circle cx="897.5" cy="1044.8" r="4.0"/>
<circle cx="904.3" cy="1045.4" r="4.0"/>
<circle cx="910.5" cy="1044.2" r="4.0"/>
<circle cx="915.4" cy="1045.4" r="4.0"/>
<circle cx="905.5" cy="1050.4" r="4.0"/>
<circle cx="909.2" cy="1052.8" r="4.0"/>
<circle cx="910.5" cy="1056.5" r="4.0"/>
<circle cx="916.6" cy="1049.1" r="4.0"/>
<circle cx="923.5" cy="1046.6" r="4.0"/>
<circle cx="925.3" cy="1035.3" r="4.0"/>
<circle cx="927.2" cy="1041.7" r="4.0"/>
<circle cx="896.8" cy="1057.8" r="4.0"/>
<circle cx="899.9" cy="1061.5" r="4.0"/>
<circle cx="934.0" cy="1047.9" r="4.0"/>
<circle cx="932.7" cy="1052.8" r="4.0"/>
<circle cx="940.2" cy="1054.7" r="4.0"/>
<circle cx="932.1" cy="1059.0" r="4.0"/>
<circle cx="934.0" cy="1062.7" r="4.0"/>
<circle cx="930.3" cy="1062.7" r="4.0"/>
<circle cx="948.2" cy="1018.2" r="4.0"/>
<circle cx="952.9" cy="1026.8" r="4.0"/>
<circle cx="954.6" cy="1036.7" r="4.0"/>
<circle cx="940.2" cy="1035.3" r="4.0"/>
<circle cx="946.4" cy="1038.8" r="4.0"/>
</g>
<line x1="632.3" y1="861.3" x2="1001.7" y2="1089.7" stroke="#111" stroke-width="1.4" stroke-dasharray="4.7 1.95"/>
<rect x="632.3" y="694.6" width="369.4000000000001" height="425.4999999999999" fill="none" stroke="#222" stroke-width="1.9"/>
<line x1="655.3" y1="1120.1" x2="655.3" y2="1128.5" stroke="#222" stroke-width="2.2"/>
<text x="655.3" y="1156.5" font-size="24.8" text-anchor="middle">6.0</text>
<line x1="740.5" y1="1120.1" x2="740.5" y2="1128.5" stroke="#222" stroke-width="2.2"/>
<text x="740.5" y="1156.5" font-size="24.8" text-anchor="middle">6.1</text>
<line x1="825.8" y1="1120.1" x2="825.8" y2="1128.5" stroke="#222" stroke-width="2.2"/>
<text x="825.8" y="1156.5" font-size="24.8" text-anchor="middle">6.2</text>
<line x1="911.0" y1="1120.1" x2="911.0" y2="1128.5" stroke="#222" stroke-width="2.2"/>
<text x="911.0" y="1156.5" font-size="24.8" text-anchor="middle">6.3</text>
<line x1="996.3" y1="1120.1" x2="996.3" y2="1128.5" stroke="#222" stroke-width="2.2"/>
<text x="996.3" y="1156.5" font-size="24.8" text-anchor="middle">6.4</text>
<line x1="623.9" y1="738.4" x2="632.3" y2="738.4" stroke="#222" stroke-width="2.2"/>
<text x="614.1" y="748.3" font-size="24.8" text-anchor="end">6.0</text>
<line x1="623.9" y1="795.8" x2="632.3" y2="795.8" stroke="#222" stroke-width="2.2"/>
<text x="614.1" y="805.6" font-size="24.8" text-anchor="end">5.5</text>
<line x1="623.9" y1="853.1" x2="632.3" y2="853.1" stroke="#222" stroke-width="2.2"/>
<text x="614.1" y="863.0" font-size="24.8" text-anchor="end">5.0</text>
<line x1="623.9" y1="910.5" x2="632.3" y2="910.5" stroke="#222" stroke-width="2.2"/>
<text x="614.1" y="920.4" font-size="24.8" text-anchor="end">4.5</text>
<line x1="623.9" y1="967.8" x2="632.3" y2="967.8" stroke="#222" stroke-width="2.2"/>
<text x="614.1" y="977.7" font-size="24.8" text-anchor="end">4.0</text>
<line x1="623.9" y1="1025.2" x2="632.3" y2="1025.2" stroke="#222" stroke-width="2.2"/>
<text x="614.1" y="1035.1" font-size="24.8" text-anchor="end">3.5</text>
<line x1="623.9" y1="1082.5" x2="632.3" y2="1082.5" stroke="#222" stroke-width="2.2"/>
<text x="614.1" y="1092.4" font-size="24.8" text-anchor="end">3.0</text>
<rect x="643.0" y="705.1" width="31.9" height="40.2" fill="#fff" stroke="#000" stroke-width="2.2"/>
<text x="646.8" y="737.8" font-size="28.4" font-weight="bold">E</text>
<text x="633.2" y="686.9" font-size="24.4">1e−8</text>
<rect x="795.0" y="704.3" width="197.1" height="74.5" rx="4.5" ry="4.5" fill="#fff" fill-opacity="0.8" stroke="#d0d0d0" stroke-width="2"/>
<line x1="802.6" y1="727.3" x2="842.8" y2="727.3" stroke="#111" stroke-width="1.3" stroke-dasharray="4.6 2.05"/>
<circle cx="822.5" cy="761.9" r="4.0" fill="#10873e"/>
<g transform="translate(858.10,733.70)" >
<text><tspan x="0.00" y="-0.07" font-size="19.60" font-style="italic">c</tspan><tspan x="11.72" y="-7.72" font-size="13.72">e</tspan><tspan x="24.54" y="-0.07" font-size="19.60">=</tspan><tspan x="44.81" y="-0.07" font-size="19.60" font-style="italic">β</tspan><tspan x="57.33" y="3.21" font-size="13.72">2</tspan><tspan x="66.62" y="-0.07" font-size="19.60">Ω</tspan><tspan x="85.44" y="-0.07" font-size="19.60">+</tspan><tspan x="105.71" y="-0.07" font-size="19.60" font-style="italic">δ</tspan><tspan x="117.71" y="3.21" font-size="13.72">2</tspan></text>
<polygon points="22.80,-18.11 20.64,-18.11 12.46,-20.17 4.28,-18.11 2.12,-18.11 12.12,-21.13 12.80,-21.13"/>
<rect x="73.35" y="-18.41" width="5.72" height="1.41"/>
</g>
<g transform="translate(858.10,767.30)" >
<text><tspan x="0.00" y="-0.35" font-size="19.60">(</tspan><tspan x="7.66" y="-0.35" font-size="19.60">Ω</tspan><tspan x="22.65" y="-0.35" font-size="19.60">,</tspan><tspan x="32.71" y="-0.35" font-size="19.60" font-style="italic">c</tspan><tspan x="44.44" y="-8.00" font-size="13.72">e</tspan><tspan x="53.43" y="-0.35" font-size="19.60">)</tspan></text>
<rect x="14.39" y="-18.69" width="5.72" height="1.41"/>
</g>
<rect x="631.1" y="1038.6" width="86.3" height="45.9" rx="3.2" ry="3.2" fill="#f9f0df" stroke="#7f796f" stroke-width="2.9"/>
<text x="635.8" y="1056.9" font-size="17.15">r = -0.77</text>
<text x="635.8" y="1076.5" font-size="17.15">p = 0.00</text>
<g transform="translate(817.00,1194.00)" >
<text><tspan x="-11.50" y="-0.84" font-size="29.40">Ω</tspan></text>
<rect x="-1.89" y="-28.29" width="8.58" height="2.12"/>
</g>
<g transform="translate(559.60,907.25) rotate(-90)" >
<text><tspan x="-128.50" y="-0.83" font-size="29.40" font-style="italic">c</tspan><tspan x="-111.00" y="-11.93" font-size="20.58">e</tspan><tspan x="-88.02" y="-0.83" font-size="29.40">(</tspan><tspan x="-76.56" y="-0.83" font-size="29.40" font-style="italic">m</tspan><tspan x="-46.60" y="-11.93" font-size="20.58">1</tspan><tspan x="-33.51" y="-11.93" font-size="20.58">.</tspan><tspan x="-26.98" y="-11.93" font-size="20.58">5</tspan><tspan x="-13.10" y="-0.83" font-size="29.40" font-style="italic">s</tspan><tspan x="3.55" y="-11.93" font-size="20.58">−</tspan><tspan x="20.78" y="-11.93" font-size="20.58">1</tspan><tspan x="34.65" y="-0.83" font-size="29.40" font-style="italic">W</tspan><tspan x="65.73" y="-11.93" font-size="20.58">−</tspan><tspan x="82.96" y="-11.93" font-size="20.58">0</tspan><tspan x="96.04" y="-11.93" font-size="20.58">.</tspan><tspan x="102.58" y="-11.93" font-size="20.58">5</tspan><tspan x="116.46" y="-0.83" font-size="29.40">)</tspan></text>
</g>
</g>
<g>
<g fill="#10873e">
<circle cx="1228.6" cy="767.7" r="4.0"/>
<circle cx="1223.3" cy="775.7" r="4.0"/>
<circle cx="1227.0" cy="776.9" r="4.0"/>
<circle cx="1232.6" cy="773.2" r="4.0"/>
<circle cx="1238.2" cy="771.4" r="4.0"/>
<circle cx="1253.0" cy="766.8" r="4.0"/>
<circle cx="1252.4" cy="770.1" r="4.0"/>
<circle cx="1248.7" cy="779.8" r="4.0"/>
<circle cx="1256.1" cy="781.9" r="4.0"/>
<circle cx="1255.5" cy="789.9" r="4.0"/>
<circle cx="1254.3" cy="795.5" r="4.0"/>
<circle cx="1268.3" cy="776.9" r="4.0"/>
<circle cx="1229.3" cy="788.1" r="4.0"/>
<circle cx="1244.6" cy="790.2" r="4.0"/>
<circle cx="1245.2" cy="801.7" r="4.0"/>
<circle cx="1237.2" cy="801.4" r="4.0"/>
<circle cx="1232.0" cy="802.7" r="4.0"/>
<circle cx="1226.0" cy="808.5" r="4.0"/>
<circle cx="1223.3" cy="804.2" r="4.0"/>
<circle cx="1218.4" cy="805.4" r="4.0"/>
<circle cx="1213.7" cy="805.2" r="4.0"/>
<circle cx="1209.7" cy="814.1" r="4.0"/>
<circle cx="1214.0" cy="825.2" r="4.0"/>
<circle cx="1230.7" cy="834.7" r="4.0"/>
<circle cx="1228.3" cy="842.3" r="4.0"/>
<circle cx="1243.5" cy="841.1" r="4.0"/>
<circle cx="1252.4" cy="825.2" r="4.0"/>
<circle cx="1257.4" cy="829.5" r="4.0"/>
<circle cx="1253.6" cy="832.0" r="4.0"/>
<circle cx="1263.5" cy="803.2" r="4.0"/>
<circle cx="1275.3" cy="803.5" r="4.0"/>
<circle cx="1272.8" cy="806.6" r="4.0"/>
<circle cx="1274.1" cy="811.0" r="4.0"/>
<circle cx="1272.2" cy="814.1" r="4.0"/>
<circle cx="1282.7" cy="813.1" r="4.0"/>
<circle cx="1274.3" cy="820.3" r="4.0"/>
<circle cx="1275.9" cy="825.2" r="4.0"/>
<circle cx="1277.8" cy="836.7" r="4.0"/>
<circle cx="1291.8" cy="756.9" r="4.0"/>
<circle cx="1299.4" cy="754.9" r="4.0"/>
<circle cx="1310.0" cy="762.1" r="4.0"/>
<circle cx="1286.7" cy="767.3" r="4.0"/>
<circle cx="1317.0" cy="774.5" r="4.0"/>
<circle cx="1298.0" cy="780.7" r="4.0"/>
<circle cx="1306.9" cy="788.1" r="4.0"/>
<circle cx="1297.3" cy="791.8" r="4.0"/>
<circle cx="1298.2" cy="796.5" r="4.0"/>
<circle cx="1299.8" cy="806.0" r="4.0"/>
<circle cx="1297.6" cy="808.5" r="4.0"/>
<circle cx="1299.4" cy="816.3" r="4.0"/>
<circle cx="1311.2" cy="820.0" r="4.0"/>
<circle cx="1311.2" cy="830.2" r="4.0"/>
<circle cx="1310.6" cy="835.1" r="4.0"/>
<circle cx="1360.1" cy="822.7" r="4.0"/>
<circle cx="1348.0" cy="827.7" r="4.0"/>
<circle cx="1343.8" cy="837.8" r="4.0"/>
<circle cx="1352.1" cy="836.4" r="4.0"/>
<circle cx="1317.4" cy="843.8" r="4.0"/>
<circle cx="1319.2" cy="843.2" r="4.0"/>
<circle cx="1316.2" cy="847.5" r="4.0"/>
<circle cx="1324.8" cy="845.0" r="4.0"/>
<circle cx="1330.4" cy="844.4" r="4.0"/>
<circle cx="1334.1" cy="843.5" r="4.0"/>
<circle cx="1328.5" cy="850.0" r="4.0"/>
<circle cx="1330.4" cy="854.3" r="4.0"/>
<circle cx="1334.7" cy="856.8" r="4.0"/>
<circle cx="1331.6" cy="859.9" r="4.0"/>
<circle cx="1339.1" cy="859.2" r="4.0"/>
<circle cx="1339.1" cy="864.2" r="4.0"/>
<circle cx="1362.6" cy="847.7" r="4.0"/>
<circle cx="1368.1" cy="840.7" r="4.0"/>
<circle cx="1369.4" cy="831.4" r="4.0"/>
<circle cx="1353.9" cy="859.9" r="4.0"/>
<circle cx="1355.1" cy="864.2" r="4.0"/>
<circle cx="1369.4" cy="862.3" r="4.0"/>
<circle cx="1218.1" cy="865.1" r="4.0"/>
<circle cx="1225.8" cy="865.9" r="4.0"/>
<circle cx="1200.4" cy="869.2" r="4.0"/>
<circle cx="1207.2" cy="868.6" r="4.0"/>
<circle cx="1191.8" cy="877.0" r="4.0"/>
<circle cx="1197.3" cy="873.6" r="4.0"/>
<circle cx="1204.8" cy="873.6" r="4.0"/>
<circle cx="1209.7" cy="874.8" r="4.0"/>
<circle cx="1214.0" cy="874.2" r="4.0"/>
<circle cx="1206.6" cy="878.5" r="4.0"/>
<circle cx="1210.9" cy="881.0" r="4.0"/>
<circle cx="1207.2" cy="884.1" r="4.0"/>
<circle cx="1193.6" cy="888.7" r="4.0"/>
<circle cx="1207.5" cy="891.9" r="4.0"/>
<circle cx="1254.5" cy="870.8" r="4.0"/>
<circle cx="1274.1" cy="875.8" r="4.0"/>
<circle cx="1275.3" cy="892.8" r="4.0"/>
<circle cx="1275.9" cy="897.7" r="4.0"/>
<circle cx="1287.7" cy="895.2" r="4.0"/>
<circle cx="1285.8" cy="900.2" r="4.0"/>
<circle cx="1284.0" cy="903.3" r="4.0"/>
<circle cx="1274.1" cy="904.5" r="4.0"/>
<circle cx="1269.1" cy="907.6" r="4.0"/>
<circle cx="1276.5" cy="907.6" r="4.0"/>
<circle cx="1281.5" cy="908.2" r="4.0"/>
<circle cx="1290.8" cy="912.2" r="4.0"/>
<circle cx="1306.0" cy="879.1" r="4.0"/>
<circle cx="1306.0" cy="883.5" r="4.0"/>
<circle cx="1306.0" cy="891.8" r="4.0"/>
<circle cx="1306.0" cy="914.2" r="4.0"/>
<circle cx="1314.3" cy="917.8" r="4.0"/>
<circle cx="1324.0" cy="917.3" r="4.0"/>
<circle cx="1328.8" cy="910.7" r="4.0"/>
<circle cx="1337.8" cy="919.4" r="4.0"/>
<circle cx="1321.1" cy="878.5" r="4.0"/>
<circle cx="1321.1" cy="882.8" r="4.0"/>
<circle cx="1321.1" cy="887.2" r="4.0"/>
<circle cx="1329.2" cy="877.3" r="4.0"/>
<circle cx="1340.3" cy="881.0" r="4.0"/>
<circle cx="1346.5" cy="885.9" r="4.0"/>
<circle cx="1321.7" cy="898.3" r="4.0"/>
<circle cx="1319.2" cy="902.7" r="4.0"/>
<circle cx="1328.5" cy="897.7" r="4.0"/>
<circle cx="1339.7" cy="902.7" r="4.0"/>
<circle cx="1349.0" cy="908.5" r="4.0"/>
<circle cx="1358.9" cy="912.2" r="4.0"/>
<circle cx="1339.7" cy="867.4" r="4.0"/>
<circle cx="1345.9" cy="873.3" r="4.0"/>
<circle cx="1351.4" cy="881.0" r="4.0"/>
<circle cx="1355.8" cy="879.1" r="4.0"/>
<circle cx="1360.7" cy="876.7" r="4.0"/>
<circle cx="1358.9" cy="881.6" r="4.0"/>
<circle cx="1362.0" cy="882.8" r="4.0"/>
<circle cx="1355.8" cy="886.6" r="4.0"/>
<circle cx="1357.0" cy="890.9" r="4.0"/>
<circle cx="1351.4" cy="894.6" r="4.0"/>
<circle cx="1355.1" cy="895.8" r="4.0"/>
<circle cx="1362.6" cy="897.7" r="4.0"/>
<circle cx="1354.5" cy="903.3" r="4.0"/>
<circle cx="1369.4" cy="884.1" r="4.0"/>
<circle cx="1369.4" cy="907.0" r="4.0"/>
<circle cx="1320.7" cy="952.8" r="4.0"/>
<circle cx="1313.1" cy="962.4" r="4.0"/>
<circle cx="1306.6" cy="969.7" r="4.0"/>
<circle cx="1369.7" cy="845.6" r="4.0"/>
<circle cx="1373.2" cy="858.2" r="4.0"/>
<circle cx="1371.6" cy="863.5" r="4.0"/>
<circle cx="1375.9" cy="865.4" r="4.0"/>
<circle cx="1379.6" cy="866.6" r="4.0"/>
<circle cx="1385.6" cy="859.8" r="4.0"/>
<circle cx="1387.7" cy="862.9" r="4.0"/>
<circle cx="1382.7" cy="871.0" r="4.0"/>
<circle cx="1383.3" cy="874.7" r="4.0"/>
<circle cx="1379.6" cy="879.6" r="4.0"/>
<circle cx="1374.0" cy="882.7" r="4.0"/>
<circle cx="1370.9" cy="883.7" r="4.0"/>
<circle cx="1411.5" cy="857.4" r="4.0"/>
<circle cx="1407.5" cy="864.2" r="4.0"/>
<circle cx="1427.6" cy="868.1" r="4.0"/>
<circle cx="1419.2" cy="869.7" r="4.0"/>
<circle cx="1403.7" cy="872.2" r="4.0"/>
<circle cx="1399.2" cy="874.7" r="4.0"/>
<circle cx="1414.9" cy="875.9" r="4.0"/>
<circle cx="1417.4" cy="880.9" r="4.0"/>
<circle cx="1399.4" cy="882.5" r="4.0"/>
<circle cx="1425.4" cy="881.5" r="4.0"/>
<circle cx="1427.6" cy="887.7" r="4.0"/>
<circle cx="1403.7" cy="888.9" r="4.0"/>
<circle cx="1409.3" cy="893.6" r="4.0"/>
<circle cx="1418.6" cy="893.9" r="4.0"/>
<circle cx="1398.4" cy="896.4" r="4.0"/>
<circle cx="1372.8" cy="902.5" r="4.0"/>
<circle cx="1382.1" cy="902.5" r="4.0"/>
<circle cx="1371.6" cy="906.9" r="4.0"/>
<circle cx="1379.6" cy="906.3" r="4.0"/>
<circle cx="1402.5" cy="904.1" r="4.0"/>
<circle cx="1393.2" cy="906.9" r="4.0"/>
<circle cx="1396.9" cy="910.6" r="4.0"/>
<circle cx="1401.9" cy="915.5" r="4.0"/>
<circle cx="1424.2" cy="909.7" r="4.0"/>
<circle cx="1422.9" cy="918.6" r="4.0"/>
<circle cx="1416.7" cy="922.3" r="4.0"/>
<circle cx="1425.4" cy="921.1" r="4.0"/>
<circle cx="1424.0" cy="938.1" r="4.0"/>
<circle cx="1426.1" cy="947.6" r="4.0"/>
<circle cx="1451.4" cy="946.6" r="4.0"/>
<circle cx="1413.9" cy="954.9" r="4.0"/>
<circle cx="1448.4" cy="963.3" r="4.0"/>
<circle cx="1457.0" cy="967.2" r="4.0"/>
<circle cx="1448.7" cy="970.7" r="4.0"/>
<circle cx="1456.4" cy="973.2" r="4.0"/>
<circle cx="1449.6" cy="975.7" r="4.0"/>
<circle cx="1425.5" cy="966.4" r="4.0"/>
<circle cx="1421.7" cy="971.3" r="4.0"/>
<circle cx="1427.9" cy="971.9" r="4.0"/>
<circle cx="1424.2" cy="976.3" r="4.0"/>
<circle cx="1414.1" cy="980.8" r="4.0"/>
<circle cx="1417.4" cy="983.1" r="4.0"/>
<circle cx="1409.4" cy="988.0" r="4.0"/>
<circle cx="1433.5" cy="980.6" r="4.0"/>
<circle cx="1433.9" cy="984.9" r="4.0"/>
<circle cx="1431.6" cy="992.0" r="4.0"/>
<circle cx="1463.6" cy="1005.4" r="4.0"/>
<circle cx="1451.1" cy="1014.4" r="4.0"/>
<circle cx="1449.3" cy="1027.9" r="4.0"/>
<circle cx="1423.6" cy="1032.0" r="4.0"/>
<circle cx="1427.3" cy="1031.1" r="4.0"/>
<circle cx="1410.0" cy="1035.1" r="4.0"/>
<circle cx="1413.1" cy="1036.9" r="4.0"/>
<circle cx="1418.0" cy="1038.8" r="4.0"/>
<circle cx="1415.6" cy="1041.9" r="4.0"/>
<circle cx="1440.9" cy="1036.9" r="4.0"/>
<circle cx="1471.9" cy="1038.2" r="4.0"/>
<circle cx="1476.0" cy="1035.3" r="4.0"/>
<circle cx="1444.0" cy="1045.0" r="4.0"/>
<circle cx="1440.9" cy="1048.1" r="4.0"/>
<circle cx="1402.6" cy="1046.6" r="4.0"/>
<circle cx="1402.2" cy="1049.9" r="4.0"/>
<circle cx="1392.3" cy="1048.7" r="4.0"/>
<circle cx="1421.7" cy="1049.3" r="4.0"/>
<circle cx="1434.7" cy="1055.5" r="4.0"/>
<circle cx="1365.8" cy="1060.4" r="4.0"/>
<circle cx="1391.0" cy="1061.7" r="4.0"/>
<circle cx="1442.5" cy="1061.1" r="4.0"/>
<circle cx="1457.0" cy="1061.1" r="4.0"/>
<circle cx="1470.0" cy="1062.3" r="4.0"/>
<circle cx="1372.2" cy="1066.9" r="4.0"/>
<circle cx="1382.8" cy="1065.9" r="4.0"/>
<circle cx="1384.9" cy="1069.6" r="4.0"/>
<circle cx="1382.1" cy="1083.5" r="4.0"/>
<circle cx="1426.1" cy="1073.3" r="4.0"/>
<circle cx="1417.2" cy="1076.7" r="4.0"/>
<circle cx="1465.1" cy="1074.9" r="4.0"/>
<circle cx="1435.4" cy="1090.3" r="4.0"/>
</g>
<line x1="1149.1" y1="742.9" x2="1518.8" y2="1036.9" stroke="#111" stroke-width="1.4" stroke-dasharray="4.7 1.95"/>
<rect x="1149.1" y="694.6" width="369.70000000000005" height="425.4999999999999" fill="none" stroke="#222" stroke-width="1.9"/>
<line x1="1172.5" y1="1120.1" x2="1172.5" y2="1128.5" stroke="#222" stroke-width="2.2"/>
<text x="1172.5" y="1156.5" font-size="24.8" text-anchor="middle">6.0</text>
<line x1="1257.7" y1="1120.1" x2="1257.7" y2="1128.5" stroke="#222" stroke-width="2.2"/>
<text x="1257.7" y="1156.5" font-size="24.8" text-anchor="middle">6.1</text>
<line x1="1342.8" y1="1120.1" x2="1342.8" y2="1128.5" stroke="#222" stroke-width="2.2"/>
<text x="1342.8" y="1156.5" font-size="24.8" text-anchor="middle">6.2</text>
<line x1="1428.0" y1="1120.1" x2="1428.0" y2="1128.5" stroke="#222" stroke-width="2.2"/>
<text x="1428.0" y="1156.5" font-size="24.8" text-anchor="middle">6.3</text>
<line x1="1513.1" y1="1120.1" x2="1513.1" y2="1128.5" stroke="#222" stroke-width="2.2"/>
<text x="1513.1" y="1156.5" font-size="24.8" text-anchor="middle">6.4</text>
<line x1="1140.6999999999998" y1="711.6" x2="1149.1" y2="711.6" stroke="#222" stroke-width="2.2"/>
<text x="1130.9" y="721.5" font-size="24.8" text-anchor="end">2.8</text>
<line x1="1140.6999999999998" y1="772.0" x2="1149.1" y2="772.0" stroke="#222" stroke-width="2.2"/>
<text x="1130.9" y="781.9" font-size="24.8" text-anchor="end">2.6</text>
<line x1="1140.6999999999998" y1="832.4" x2="1149.1" y2="832.4" stroke="#222" stroke-width="2.2"/>
<text x="1130.9" y="842.3" font-size="24.8" text-anchor="end">2.4</text>
<line x1="1140.6999999999998" y1="892.8" x2="1149.1" y2="892.8" stroke="#222" stroke-width="2.2"/>
<text x="1130.9" y="902.7" font-size="24.8" text-anchor="end">2.2</text>
<line x1="1140.6999999999998" y1="953.2" x2="1149.1" y2="953.2" stroke="#222" stroke-width="2.2"/>
<text x="1130.9" y="963.1" font-size="24.8" text-anchor="end">2.0</text>
<line x1="1140.6999999999998" y1="1013.6" x2="1149.1" y2="1013.6" stroke="#222" stroke-width="2.2"/>
<text x="1130.9" y="1023.5" font-size="24.8" text-anchor="end">1.8</text>
<line x1="1140.6999999999998" y1="1074.0" x2="1149.1" y2="1074.0" stroke="#222" stroke-width="2.2"/>
<text x="1130.9" y="1083.9" font-size="24.8" text-anchor="end">1.6</text>
<rect x="1160.1" y="705.1" width="25.8" height="40.2" fill="#fff" stroke="#000" stroke-width="2.2"/>
<text x="1163.4" y="733.75" font-size="28.4" font-weight="bold">F</text>
<rect x="1320.0" y="704.3" width="188.5" height="73.8" rx="4.5" ry="4.5" fill="#fff" fill-opacity="0.8" stroke="#d0d0d0" stroke-width="2"/>
<line x1="1327.6" y1="725.6" x2="1367.8" y2="725.6" stroke="#111" stroke-width="1.3" stroke-dasharray="4.6 2.05"/>
<circle cx="1347.5" cy="760.4" r="4.0" fill="#10873e"/>
<g transform="translate(1383.10,732.00)" >
<text><tspan x="0.00" y="-0.35" font-size="19.60" font-style="italic">φ</tspan><tspan x="16.77" y="-0.35" font-size="19.60">=</tspan><tspan x="37.04" y="-0.35" font-size="19.60" font-style="italic">β</tspan><tspan x="49.56" y="2.93" font-size="13.72">3</tspan><tspan x="58.85" y="-0.35" font-size="19.60">Ω</tspan><tspan x="77.67" y="-0.35" font-size="19.60">+</tspan><tspan x="97.93" y="-0.35" font-size="19.60" font-style="italic">δ</tspan><tspan x="109.94" y="2.93" font-size="13.72">3</tspan></text>
<polygon points="14.21,-13.93 12.90,-13.93 7.75,-15.85 2.59,-13.93 1.28,-13.93 7.43,-16.74 8.07,-16.74"/>
<rect x="65.58" y="-18.69" width="5.72" height="1.41"/>
</g>
<g transform="translate(1383.10,765.80)" >
<text><tspan x="0.00" y="-0.35" font-size="19.60">(</tspan><tspan x="7.66" y="-0.35" font-size="19.60">Ω</tspan><tspan x="22.65" y="-0.35" font-size="19.60">,</tspan><tspan x="32.71" y="-0.35" font-size="19.60" font-style="italic">φ</tspan><tspan x="45.66" y="-0.35" font-size="19.60">)</tspan></text>
<rect x="14.39" y="-18.69" width="5.72" height="1.41"/>
</g>
<rect x="1147.9" y="1038.6" width="86.3" height="45.9" rx="3.2" ry="3.2" fill="#f9f0df" stroke="#7f796f" stroke-width="2.9"/>
<text x="1152.6" y="1056.9" font-size="17.15">r = -0.71</text>
<text x="1152.6" y="1076.5" font-size="17.15">p = 0.00</text>
<g transform="translate(1333.95,1194.00)" >
<text><tspan x="-11.50" y="-0.84" font-size="29.40">Ω</tspan></text>
<rect x="-1.89" y="-28.29" width="8.58" height="2.12"/>
</g>
<g transform="translate(1076.40,907.25) rotate(-90)" >
<text><tspan x="-10.00" y="-0.03" font-size="29.40" font-style="italic">φ</tspan></text>
</g>
</g>
</svg>
</body></html>
